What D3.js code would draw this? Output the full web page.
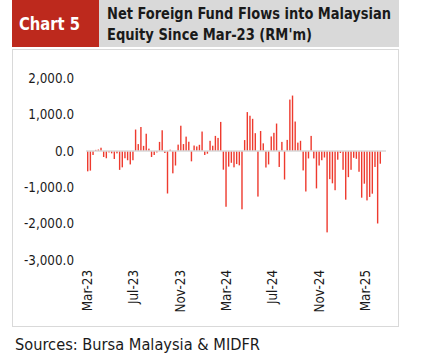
<!DOCTYPE html>
<html>
<head>
<meta charset="utf-8">
<script src="https://cdn.jsdelivr.net/npm/d3@7"></script>
<style>
  body { margin: 0; background: #fff; }
  text { font-family: "DejaVu Sans Condensed", "DejaVu Sans", sans-serif; }
</style>
</head>
<body>
<svg id="chart" width="432" height="362"></svg>
<script>
// weekly net foreign flows, RM million, first week ending 3 Mar 2023
var firstWeek = "2023-03-03";
var flows = [
  -560, -540, -110, 30, 40, 90, -165, -200, -40, -65, -220, -65, -520, -450, -200, -255, -370, -255, 590,
  190, 660, 140, 475, 65, -165, -110, -40, 250, 570, -55, -1170, 35, -615, -400, 175, 695, 190, 395,
  255, -285, 150, 125, 170, 535, -110, -75, 280, 145, 415, 360, 800, -515, -1535, -430, -325, -450, -360, -395,
  -1605, 300, 1070, 970, 885, 490, -1255, 550, 210, -455, -370, 400, 500, 755, -440, 250, -785,
  305, 1415, 1525, 810, 230, 280, -535, -1115, -205, 415, -205, -1030, -400, -255, -180, -2240,
  -775, -890, -1080, -240, -55, -518, -1340, -720, -518, -188, -215, -572, -1285, -900, -1360, -1265,
  -1175, -440, -1995, -350
];
var tickDates = ["2023-03-01", "2023-07-01", "2023-11-01", "2024-03-01", "2024-07-01", "2024-11-01", "2025-03-01"];
var tickLabels = ["Mar-23", "Jul-23", "Nov-23", "Mar-24", "Jul-24", "Nov-24", "Mar-25"];
var yTicks = [2000, 1000, 0, -1000, -2000, -3000];

var svg = d3.select("#chart");
var parse = d3.utcParse("%Y-%m-%d");
var start = parse(firstWeek);
var weeks = flows.map(function(v, i) { return {date: d3.utcDay.offset(start, i * 7), value: v}; });

var x = d3.scaleUtc()
  .domain([d3.utcHour.offset(weeks[0].date, -108), d3.utcDay.offset(weeks[weeks.length - 1].date, 15)])
  .range([86, 386]);
var y = d3.scaleLinear().domain([-3000, 2000]).range([260, 78.3]);

// header
svg.append("rect").attr("x", 12).attr("y", 0).attr("width", 87).attr("height", 47).attr("fill", "#bd291d");
svg.append("rect").attr("x", 99).attr("y", 0).attr("width", 300).attr("height", 47).attr("fill", "#d9d9d9");
svg.append("text").attr("x", 19).attr("y", 30)
  .attr("font-size", 18).attr("font-weight", "bold").attr("fill", "#fff")
  .attr("textLength", 61).attr("lengthAdjust", "spacingAndGlyphs")
  .text("Chart 5");
svg.append("text").attr("x", 107).attr("y", 19)
  .attr("font-size", 16).attr("font-weight", "bold").attr("fill", "#1a1a1a")
  .attr("textLength", 284).attr("lengthAdjust", "spacingAndGlyphs")
  .text("Net Foreign Fund Flows into Malaysian");
svg.append("text").attr("x", 107).attr("y", 40)
  .attr("font-size", 16).attr("font-weight", "bold").attr("fill", "#1a1a1a")
  .attr("textLength", 205).attr("lengthAdjust", "spacingAndGlyphs")
  .text("Equity Since Mar-23 (RM'm)");

// chart frame
svg.append("rect").attr("x", 12.5).attr("y", 49.5).attr("width", 386).attr("height", 277)
  .attr("fill", "none").attr("stroke", "#d9d9d9");

// y axis labels (no line, no grid)
svg.append("g").selectAll("text").data(yTicks).join("text")
  .attr("x", 74).attr("y", function(d) { return y(d); }).attr("dy", "0.36em")
  .attr("text-anchor", "end").attr("font-size", 13.3).attr("fill", "#1a1a1a")
  .text(function(d) { return d3.format(",.1f")(d).replace("−", "-"); });

// bars
svg.append("g").selectAll("rect").data(weeks).join("rect")
  .attr("x", function(d) { return x(d.date) - 0.7; })
  .attr("width", 1.4)
  .attr("y", function(d) { return y(Math.max(0, d.value)); })
  .attr("height", function(d) { return Math.abs(y(d.value) - y(0)); })
  .attr("fill", "#ee3a2e");

// zero line
svg.append("line").attr("x1", x.range()[0]).attr("x2", x.range()[1])
  .attr("y1", y(0)).attr("y2", y(0)).attr("stroke", "#d9d9d9").attr("stroke-width", 1.5);

// x labels, rotated
svg.append("g").selectAll("text").data(tickDates).join("text")
  .attr("transform", function(d) { return "translate(" + x(parse(d)) + ",270) rotate(-90)"; })
  .attr("dy", "0.36em").attr("text-anchor", "end")
  .attr("font-size", 13.3).attr("fill", "#1a1a1a")
  .text(function(d, i) { return tickLabels[i]; });

// source
svg.append("text").attr("x", 15).attr("y", 350)
  .attr("font-size", 15).attr("fill", "#1a1a1a")
  .attr("textLength", 245).attr("lengthAdjust", "spacingAndGlyphs")
  .text("Sources: Bursa Malaysia & MIDFR");
</script>
</body>
</html>
